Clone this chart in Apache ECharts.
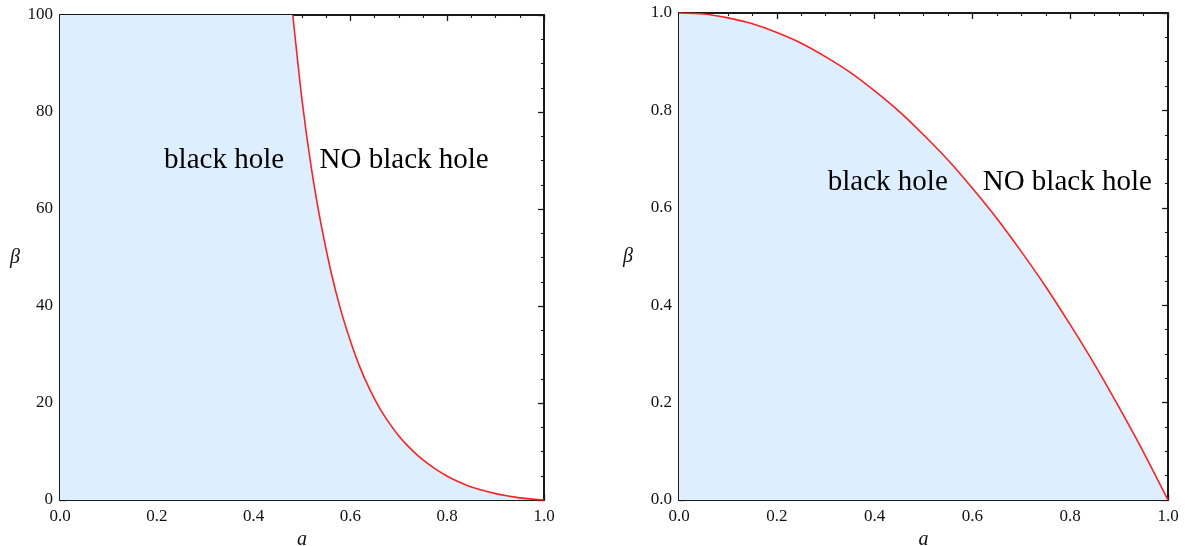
<!DOCTYPE html>
<html>
<head>
<meta charset="utf-8">
<script src="https://cdn.jsdelivr.net/npm/echarts@6/dist/echarts.min.js"></script>
<style>
html,body{margin:0;padding:0;background:#fff;}
#c{width:1188px;height:546px;}
</style>
</head>
<body>
<div id="c"></div>
<script>
// Left panel: boundary curve beta(a)
const leftA    = [0.481, 0.50, 0.52, 0.54, 0.56, 0.58, 0.60, 0.62, 0.64, 0.66, 0.68, 0.70, 0.72, 0.74, 0.76, 0.78, 0.80, 0.82, 0.84, 0.86, 0.88, 0.90, 0.92, 0.94, 0.96, 0.98, 1.00];
const leftBeta = [100, 82.5, 68, 56.5, 47, 39.2, 32.8, 27.3, 22.8, 19.0, 15.9, 13.2, 11.0, 9.1, 7.5, 6.1, 4.9, 3.9, 3.05, 2.35, 1.8, 1.32, 0.92, 0.6, 0.34, 0.13, 0];
// Right panel: boundary curve beta(a)
const rightA    = [0, 0.05, 0.10, 0.15, 0.20, 0.25, 0.30, 0.35, 0.40, 0.45, 0.50, 0.55, 0.60, 0.65, 0.70, 0.75, 0.80, 0.85, 0.90, 0.95, 1.00];
const rightBeta = [1.0, 0.998, 0.99, 0.978, 0.96, 0.938, 0.91, 0.878, 0.84, 0.798, 0.75, 0.698, 0.64, 0.578, 0.51, 0.438, 0.36, 0.278, 0.19, 0.098, 0.0];
// Region labels
const regionLabels = ['black hole', 'NO black hole'];
const leftLabelPos  = [[0.339, 70], [0.711, 70]];
const rightLabelPos = [[0.427, 0.653], [0.794, 0.653]];

const leftCurve = leftA.map((a, i) => [a, leftBeta[i]]);
const rightCurve = rightA.map((a, i) => [a, rightBeta[i]]);
const leftFill = [[0, 100]].concat(leftCurve);

const FILL = 'rgb(221,238,255)';
const RED = '#ff2020';
const AX = '#1a1a1a';
const labelFont = {color: '#111', fontFamily: 'Liberation Serif', fontSize: 17};

function xAx(grid, pos) {
  const top = pos === 'top';
  return {
    type: 'value', gridIndex: grid, position: pos, min: 0, max: 1, interval: 0.2,
    name: top ? '' : 'a', nameLocation: 'middle', nameGap: 27,
    nameTextStyle: {fontFamily: 'Liberation Serif', fontStyle: 'italic', fontSize: 20, color: '#111'},
    axisLine: {show: true, onZero: false, lineStyle: {color: AX, width: 2}},
    axisTick: {show: true, inside: true, length: 6, lineStyle: {color: AX, width: 1.3}},
    minorTick: {show: true, splitNumber: 4, length: 3, lineStyle: {color: AX, width: 1.1}},
    axisLabel: {show: !top, margin: 8, ...labelFont, formatter: v => v.toFixed(1)},
    splitLine: {show: false}
  };
}
function yAx(grid, pos, max, interval, fmt, gap) {
  const right = pos === 'right';
  return {
    type: 'value', gridIndex: grid, position: pos, min: 0, max: max, interval: interval,
    name: right ? '' : 'β', nameLocation: 'middle', nameGap: gap, nameRotate: 0,
    nameTextStyle: {fontFamily: 'Liberation Serif', fontStyle: 'italic', fontSize: 20, color: '#111'},
    axisLine: {show: true, onZero: false, lineStyle: {color: AX, width: 2}},
    axisTick: {show: true, inside: true, length: 6, lineStyle: {color: AX, width: 1.3}},
    minorTick: {show: true, splitNumber: 4, length: 3, lineStyle: {color: AX, width: 1.1}},
    axisLabel: {show: !right, margin: 7, ...labelFont, formatter: fmt},
    splitLine: {show: false}
  };
}
function textSeries(xi, yi, pos) {
  return {
    type: 'scatter', xAxisIndex: xi, yAxisIndex: yi, symbolSize: 0, silent: true,
    itemStyle: {opacity: 1},
    data: pos.map((p, i) => ({value: p, name: regionLabels[i]})),
    label: {show: true, position: 'inside', formatter: p => p.name, opacity: 1,
            fontFamily: 'Liberation Serif', fontSize: 29, color: '#000', textBorderWidth: 0},
    z: 5
  };
}

const chart = echarts.init(document.getElementById('c'), null, {renderer: 'canvas'});
chart.setOption({
  animation: false,
  backgroundColor: '#fff',
  grid: [
    {left: 60, top: 15, width: 484, height: 485, containLabel: false, outerBoundsMode: 'none'},
    {left: 679, top: 13, width: 489, height: 487, containLabel: false, outerBoundsMode: 'none'}
  ],
  xAxis: [xAx(0, 'bottom'), xAx(0, 'top'), xAx(1, 'bottom'), xAx(1, 'top')],
  yAxis: [
    yAx(0, 'left', 100, 20, v => String(v), 40),
    yAx(0, 'right', 100, 20, v => String(v), 40),
    yAx(1, 'left', 1, 0.2, v => v.toFixed(1), 46),
    yAx(1, 'right', 1, 0.2, v => v.toFixed(1), 46)
  ],
  series: [
    {type: 'line', xAxisIndex: 0, yAxisIndex: 0, data: leftFill, showSymbol: false,
     smooth: false, lineStyle: {width: 0, opacity: 0},
     areaStyle: {color: FILL, opacity: 1}, z: 1, silent: true},
    {type: 'line', xAxisIndex: 0, yAxisIndex: 0, data: leftCurve, showSymbol: false,
     smooth: 0.25, lineStyle: {color: RED, width: 1.6}, z: 3, silent: true},
    {type: 'line', xAxisIndex: 2, yAxisIndex: 2, data: rightCurve, showSymbol: false,
     smooth: 0.25, lineStyle: {color: RED, width: 1.6},
     areaStyle: {color: FILL, opacity: 1}, z: 3, silent: true},
    textSeries(0, 0, leftLabelPos),
    textSeries(2, 2, rightLabelPos)
  ]
});
</script>
</body>
</html>
